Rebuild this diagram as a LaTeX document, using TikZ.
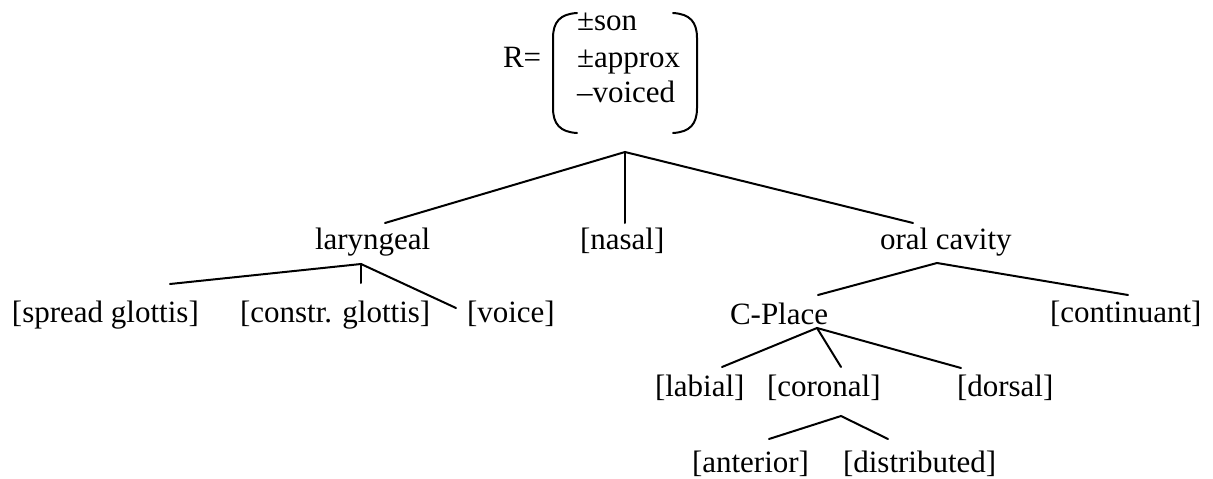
\documentclass[tikz,border=0pt]{standalone}
\usepackage{fontspec}
\setmainfont{Liberation Serif}
\begin{document}
\begin{tikzpicture}[x=1pt,y=-1pt,
  lbl/.style={anchor=base west,inner sep=0pt,outer sep=0pt,
    font=\fontsize{31}{37}\selectfont},
  branch/.style={line width=2pt,line cap=round},
  brk/.style={line width=2pt,line cap=round}]
\useasboundingbox (0,0) rectangle (1213,479);

% feature matrix of R
\node[lbl] (req) at (503,67) {R=};
\node[lbl] (son) at (577,30) {±son};
\node[lbl] (approx) at (577,67) {±approx};
\node[lbl] (voiced) at (577,102) {–voiced};
\draw[brk] (577,13) .. controls (560,14) and (553,22) .. (553,38)
  -- (553,108) .. controls (553,124) and (560,132) .. (577,133);
\draw[brk] (673,13) .. controls (690,14) and (697,22) .. (697,38)
  -- (697,108) .. controls (697,124) and (690,132) .. (673,133);

% tree nodes
\node[lbl] (lar) at (315,249) {laryngeal};
\node[lbl] (nasal) at (580,249) {[nasal]};
\node[lbl] (oral) at (880,249) {oral cavity};
\node[lbl] (sg) at (12,322) {[spread glottis]};
\node[lbl] (cg) at (240,322) {[constr. glottis]};
\node[lbl] (voice) at (467,322) {[voice]};
\node[lbl] (cplace) at (730,324) {C-Place};
\node[lbl] (cont) at (1050,322) {[continuant]};
\node[lbl] (lab) at (655,396) {[labial]};
\node[lbl] (cor) at (767,396) {[coronal]};
\node[lbl] (dor) at (957,396) {[dorsal]};
\node[lbl] (ant) at (692,472) {[anterior]};
\node[lbl] (dist) at (843,472) {[distributed]};

% branch points and branch ends
\coordinate (rootJ) at (625,152);
\coordinate (larT) at (385,223);
\coordinate (nasT) at (625,223);
\coordinate (oralT) at (913,223);
\coordinate (larJ) at (361,264);
\coordinate (sgT) at (170,284);
\coordinate (cgT) at (361,283);
\coordinate (voiceT) at (456,308);
\coordinate (oralJ) at (937,263);
\coordinate (cplT) at (818,295);
\coordinate (contT) at (1128,295);
\coordinate (cplJ) at (817,328);
\coordinate (labT) at (722,367);
\coordinate (corT) at (841,367);
\coordinate (dorT) at (961,368);
\coordinate (corJ) at (841,416);
\coordinate (antT) at (769,439);
\coordinate (distT) at (888,439);

% branches
\draw[branch] (larT) -- (rootJ) -- (oralT);
\draw[branch] (rootJ) -- (nasT);
\draw[branch] (sgT) -- (larJ) -- (voiceT);
\draw[branch] (larJ) -- (cgT);
\draw[branch] (cplT) -- (oralJ) -- (contT);
\draw[branch] (labT) -- (cplJ) -- (dorT);
\draw[branch] (cplJ) -- (corT);
\draw[branch] (antT) -- (corJ) -- (distT);
\end{tikzpicture}
\end{document}
